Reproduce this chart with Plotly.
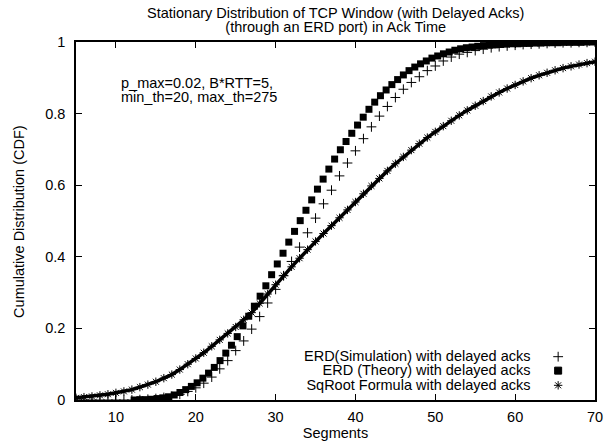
import plotly.graph_objects as go

# ERD (Simulation) with delayed acks -- plus markers
sim_x = [5, 6, 7, 8, 9, 10, 11, 12, 13, 14, 15, 16, 17, 18, 19, 20, 21, 22, 23, 24,
         25, 26, 27, 28, 29, 30, 31, 32, 33, 34, 35, 36, 37, 38, 39, 40, 41, 42, 43, 44,
         45, 46, 47, 48, 49, 50, 51, 52, 53, 54, 55, 56, 57, 58, 59, 60, 61, 62, 63, 64,
         65, 66, 67, 68, 69, 70]
sim_y = [0.0, 0.0, 0.0, 0.0, 0.0, 0.0, 0.0, 0.0, 0.001, 0.002, 0.004, 0.007, 0.010, 0.016, 0.024, 0.034,
         0.047, 0.064, 0.087, 0.110, 0.138, 0.165, 0.198, 0.233, 0.271, 0.309, 0.347, 0.387, 0.427, 0.467,
         0.508, 0.548, 0.586, 0.626, 0.662, 0.696, 0.730, 0.763, 0.793, 0.820, 0.845, 0.868, 0.887, 0.903,
         0.920, 0.933, 0.947, 0.958, 0.966, 0.971, 0.976, 0.980, 0.984, 0.987, 0.989, 0.991, 0.993, 0.994,
         0.995, 0.996, 0.997, 0.998, 0.998, 0.999, 0.999, 1.0]

# ERD (Theory) with delayed acks -- filled squares
theory_x = [12.28, 13.0, 13.72, 14.43, 15.15, 15.87, 16.59, 17.3, 18.02, 18.74, 19.45, 20.17, 20.89,
            21.6, 22.32, 23.04, 23.76, 24.47, 25.19, 25.91, 26.63, 27.34, 28.06, 28.78, 29.5, 30.21,
            30.93, 31.65, 32.37, 33.08, 33.8, 34.52, 35.24, 35.95, 36.67, 37.39, 38.11, 38.82, 39.54,
            40.26, 40.97, 41.69, 42.41, 43.13, 43.84, 44.56, 45.28, 46.0, 46.71, 47.43, 48.15, 48.87,
            49.58, 50.3, 51.02, 51.74, 52.45, 53.17, 53.89, 54.61, 55.32, 56.04, 56.76, 57.48, 58.19,
            58.91, 59.63, 60.35, 61.06, 61.78, 62.5, 63.22, 63.93, 64.65, 65.37, 66.09, 66.8, 67.52,
            68.24, 68.96, 69.67]
theory_y = [0.000, 0.001, 0.001, 0.002, 0.004, 0.006, 0.009, 0.014, 0.021, 0.029, 0.038, 0.048, 0.061,
            0.075, 0.091, 0.110, 0.131, 0.153, 0.177, 0.207, 0.234, 0.262, 0.290, 0.319, 0.350, 0.380,
            0.410, 0.441, 0.471, 0.501, 0.530, 0.559, 0.589, 0.617, 0.645, 0.673, 0.699, 0.722, 0.745,
            0.768, 0.790, 0.812, 0.832, 0.850, 0.866, 0.881, 0.895, 0.908, 0.920, 0.930, 0.939, 0.947,
            0.955, 0.961, 0.967, 0.972, 0.977, 0.981, 0.984, 0.986, 0.988, 0.990, 0.991, 0.992, 0.993,
            0.994, 0.995, 0.995, 0.996, 0.996, 0.997, 0.997, 0.998, 0.998, 0.998, 0.999, 0.999, 0.999,
            0.999, 1.0, 1.0]

# SqRoot Formula with delayed acks -- asterisks
sq_x = sim_x
sq_y = [0.006, 0.008, 0.010, 0.013, 0.016, 0.020, 0.024, 0.029, 0.036, 0.043, 0.051, 0.061, 0.071,
        0.085, 0.100, 0.116, 0.132, 0.150, 0.168, 0.186, 0.204, 0.224, 0.244, 0.270, 0.296, 0.322,
        0.348, 0.372, 0.396, 0.420, 0.443, 0.465, 0.487, 0.509, 0.531, 0.553, 0.576, 0.598, 0.619,
        0.640, 0.660, 0.679, 0.698, 0.716, 0.733, 0.749, 0.765, 0.780, 0.795, 0.809, 0.822, 0.835,
        0.848, 0.859, 0.870, 0.880, 0.890, 0.899, 0.907, 0.914, 0.921, 0.927, 0.932, 0.937, 0.941,
        0.945]

legend_labels = ["ERD(Simulation) with delayed acks",
                 "ERD (Theory) with delayed acks",
                 "SqRoot Formula with delayed acks"]
title_lines = ["Stationary Distribution of TCP Window (with Delayed Acks)",
               "(through an ERD port) in Ack Time"]
param_lines = ["p_max=0.02, B*RTT=5,", "min_th=20, max_th=275"]
x_ticks = [10, 20, 30, 40, 50, 60, 70]
y_ticks = [0, 0.2, 0.4, 0.6, 0.8, 1]
y_tick_text = ["0", "0.2", "0.4", "0.6", "0.8", "1"]

FONT = "Liberation Sans, Arial, Helvetica, sans-serif"
FS = 14.5          # glyph size
BASE = 11          # base size -> tight gnuplot-like line spacing (1.3 * 11 px)


def block(lines):
    return "<br>".join('<span style="font-size:%gpx">%s</span>' % (FS, t) for t in lines)


fig = go.Figure()
fig.add_trace(go.Scatter(x=sim_x, y=sim_y, mode="markers", name=legend_labels[0],
                         marker=dict(symbol="cross-thin-open", size=7, color="black",
                                     line=dict(width=1, color="black"))))
fig.add_trace(go.Scatter(x=theory_x, y=theory_y, mode="markers", name=legend_labels[1],
                         marker=dict(symbol="square", size=7, color="black",
                                     line=dict(width=0))))
fig.add_trace(go.Scatter(x=sq_x, y=sq_y, mode="lines+markers", name=legend_labels[2],
                         line=dict(color="black", width=3.5),
                         marker=dict(symbol="asterisk-open", size=7, color="black",
                                     line=dict(width=1, color="#333333"))))

# legend keys (gnuplot-style: text on left, symbol on right)
leg_sym = ["cross-thin-open", "square", "asterisk-open"]
leg_y = [0.121, 0.082, 0.041]
for s, yy in zip(leg_sym, leg_y):
    fig.add_trace(go.Scatter(x=[0.929], y=[yy], mode="markers", xaxis="x2", yaxis="y2",
                             showlegend=False, hoverinfo="skip",
                             marker=dict(symbol=s, size=7, color="black",
                                         line=dict(width=1, color="black"))))
fig.add_annotation(x=0.879, y=0.0817, xref="paper", yref="paper", text=block(legend_labels),
                   showarrow=False, xanchor="right", yanchor="middle", align="right",
                   font=dict(size=BASE, color="black", family=FONT))

# parameter text
fig.add_annotation(x=0.083, y=0.867, xref="paper", yref="paper", text=block(param_lines),
                   showarrow=False, xanchor="left", yanchor="middle", align="left",
                   font=dict(size=BASE, color="black", family=FONT))

# title (two centred lines)
fig.add_annotation(x=0.5, y=1.061, xref="paper", yref="paper", text=block(title_lines),
                   showarrow=False, xanchor="center", yanchor="middle", align="center",
                   font=dict(size=BASE, color="black", family=FONT))

# y axis title
fig.add_annotation(x=-0.110, y=0.5, xref="paper", yref="paper",
                   text="Cumulative Distribution (CDF)", textangle=-90,
                   showarrow=False, xanchor="center", yanchor="middle",
                   font=dict(size=FS, color="black", family=FONT))

axis_common = dict(showline=True, linecolor="black", linewidth=1.5, mirror="allticks",
                   ticks="inside", ticklen=6, tickcolor="black", tickwidth=1,
                   showgrid=False, zeroline=False,
                   tickfont=dict(size=FS, color="black", family=FONT))

fig.update_layout(
    width=611, height=443,
    margin=dict(l=76, r=8, t=42, b=40),
    paper_bgcolor="white", plot_bgcolor="white",
    showlegend=False,
    xaxis=dict(range=[5, 70], tickvals=x_ticks, ticklabelstandoff=3,
               title=dict(text="Segments", standoff=0, font=dict(size=FS, color="black", family=FONT)),
               **axis_common),
    yaxis=dict(range=[0, 1], tickvals=y_ticks, ticktext=y_tick_text, ticklabelstandoff=6,
               **axis_common),
    xaxis2=dict(range=[0, 1], overlaying="x", visible=False, fixedrange=True),
    yaxis2=dict(range=[0, 1], overlaying="y", visible=False, fixedrange=True),
)

fig.write_html("out.html")
